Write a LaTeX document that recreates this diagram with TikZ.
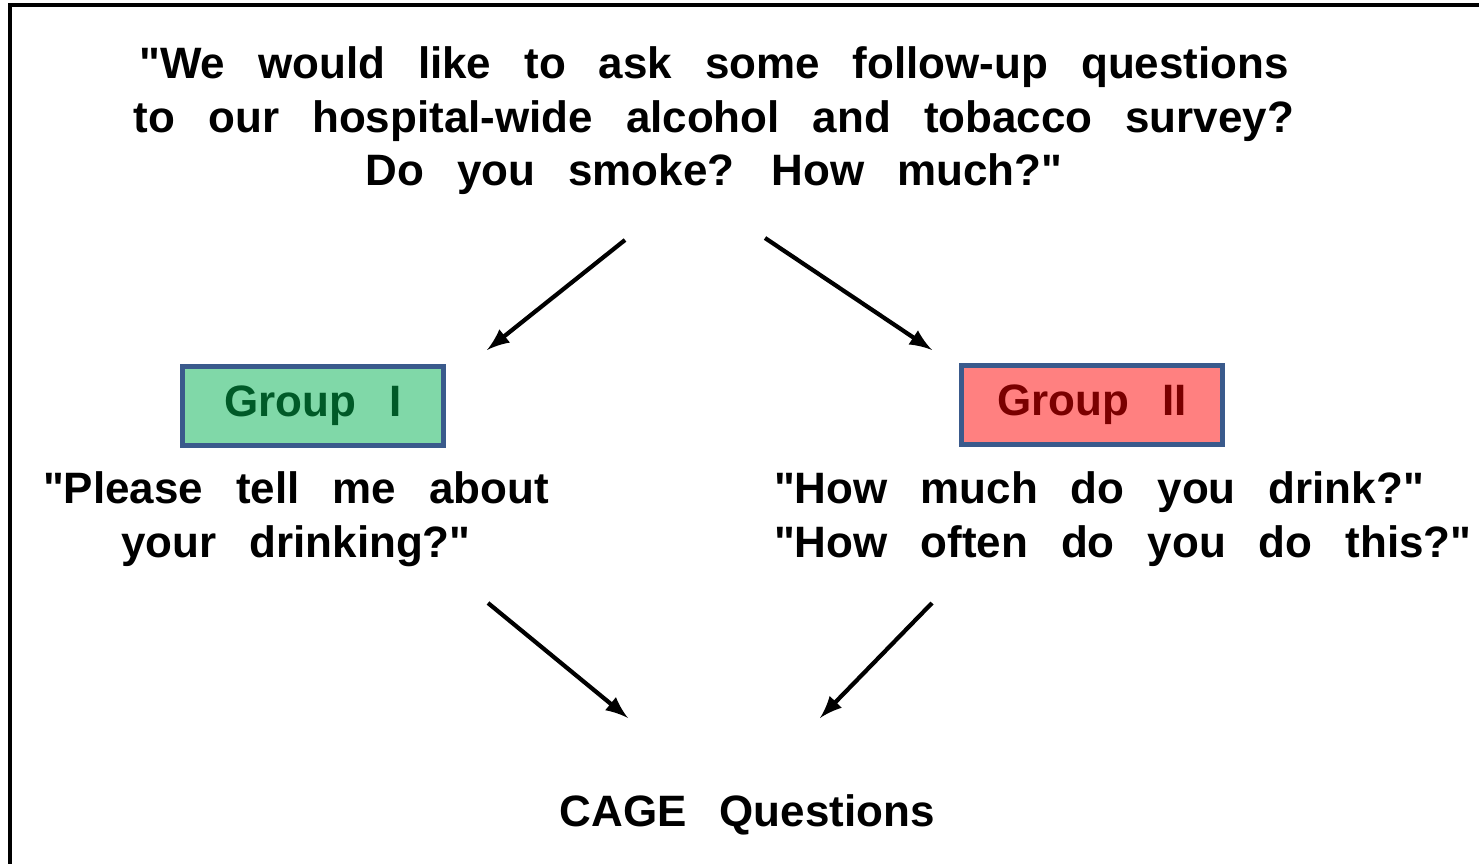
\documentclass[tikz,border=0pt]{standalone}
\usepackage{fontspec}
\setmainfont{Liberation Sans}[WordSpace=2.7]
\usetikzlibrary{arrows}

\definecolor{boxblue}{HTML}{3A5A8C}
\definecolor{groupgreen}{HTML}{80D8A8}
\definecolor{groupred}{HTML}{FF8080}
\definecolor{darkgreen}{HTML}{005A28}
\definecolor{darkred}{HTML}{7A0000}
\newcommand{\qq}{\textquotedbl}

\begin{document}
\begin{tikzpicture}[->, x=0.01cm, y=-0.01cm, >=latex, line width=1.2pt,
    font=\fontsize{12.5}{15.1}\selectfont\bfseries]
      \tikzstyle{groupbox}=[rectangle, draw=boxblue, line width=1.45pt, minimum width=2.6cm, minimum height=0.79cm, inner sep=0pt]
      \tikzstyle{says}=[inner sep=0pt, anchor=north]
      \useasboundingbox (0,0) rectangle (1479,864);
      \draw[-, line width=0.9pt] (10,900) -- (10,5) -- (1520,5);
      \node[says, align=center] (ask) at (714,45) {\qq We would like to ask some follow-up questions\\to our hospital-wide alcohol and tobacco survey?\\Do you smoke? How much?\qq};
      \node[groupbox, fill=groupgreen, text=darkgreen] (g1) at (313,406) {Group I};
      \node[groupbox, fill=groupred, text=darkred] (g2) at (1092,405) {Group II};
      \node[says, align=center] (tell) at (296,470) {\qq Please tell me about\\your drinking?\qq};
      \node[says, anchor=north west, align=left] (much) at (772,470) {\qq How much do you drink?\qq\\\qq How often do you do this?\qq};
      \node[inner sep=0pt, anchor=base] (cage) at (747,826) {CAGE Questions};
      \coordinate (ask1) at (625,240);
      \coordinate (ask2) at (765,238);
      \coordinate (g1in) at (487,350);
      \coordinate (g2in) at (932,350);
      \coordinate (tell1) at (488,603);
      \coordinate (much1) at (932,603);
      \coordinate (cage1) at (628,718);
      \coordinate (cage2) at (820,718);
      \path
      (ask1) edge (g1in)
      (ask2) edge (g2in)
      (tell1) edge (cage1)
      (much1) edge (cage2);
    \end{tikzpicture}
\end{document}
